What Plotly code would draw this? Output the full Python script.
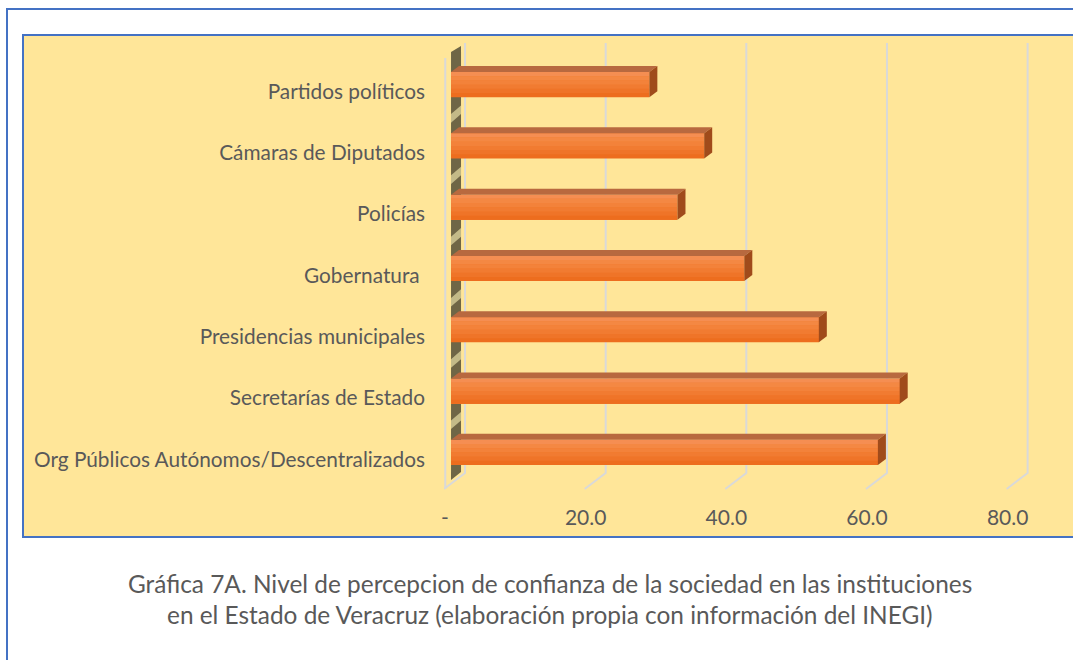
import plotly.graph_objects as go

# ---- data ----
categories = [
    "Org Públicos Autónomos/Descentralizados",
    "Secretarías de Estado",
    "Presidencias municipales",
    "Gobernatura ",
    "Policías",
    "Cámaras de Diputados",
    "Partidos políticos",
]
values = [60.7, 63.8, 52.3, 41.7, 32.2, 36.0, 28.2]
tick_vals = [0, 20, 40, 60, 80]
tick_text = ["-", "20.0", "40.0", "60.0", "80.0"]
caption_lines = [
    "Gráfica 7A. Nivel de percepcion de confianza de la sociedad en las instituciones",
    "en el Estado de Veracruz (elaboración propia con información del INEGI)",
]

# ---- layout geometry ----
W, H = 1073, 660
ML, MR, MT, MB = 444, 1, 54, 177
X_RANGE = [-1, 88.3]
Y_RANGE = [-0.5, len(categories) - 0.5]
pw = W - ML - MR
ph = H - MT - MB


def px_x(px):
    return (px - ML) / pw


def px_y(py):
    return (H - MB - py) / ph


ux = (X_RANGE[1] - X_RANGE[0]) / pw      # data units per pixel (x)
uy = (Y_RANGE[1] - Y_RANGE[0]) / ph      # data units per pixel (y)

TXT = "#595959"
FONT = "Lato"
BLUE = "#4472C4"
YELLOW = "#FFE699"
GRID = "#D9D9D9"

ypos = list(range(len(categories)))
half = 0.205

fig = go.Figure()
fig.add_trace(go.Bar(
    x=values, y=ypos, orientation="h", width=2 * half,
    marker=dict(color="#F07A2C", line=dict(width=0)),
    hoverinfo="skip",
))

shapes = []
# outer white panel with blue border
shapes.append(dict(type="rect", xref="paper", yref="paper",
                   x0=px_x(7), x1=px_x(1120), y0=px_y(9), y1=px_y(720),
                   line=dict(color=BLUE, width=2), fillcolor="white", layer="below"))
# inner yellow chart area
shapes.append(dict(type="rect", xref="paper", yref="paper",
                   x0=px_x(23), x1=px_x(1120), y0=px_y(35), y1=px_y(537),
                   line=dict(color=BLUE, width=2), fillcolor=YELLOW, layer="below"))
# 3D gridlines (back wall + floor slant)
for v in tick_vals:
    shapes.append(dict(type="path", xref="x", yref="paper",
                       path=f"M {v + 14 * ux},{px_y(43)} L {v + 14 * ux},{px_y(473)} L {v - 7 * ux},{px_y(489)}",
                       line=dict(color=GRID, width=2), layer="below"))
# front-left edge
shapes.append(dict(type="line", xref="paper", yref="paper",
                   x0=0.002, x1=0.002, y0=px_y(58), y1=px_y(489),
                   line=dict(color=GRID, width=2), layer="below"))
# left side wall
shapes.append(dict(type="path", xref="x", yref="paper",
                   path=f"M 0,{px_y(52)} L {10 * ux},{px_y(46)} L {10 * ux},{px_y(472)} L 0,{px_y(480)} Z",
                   fillcolor="#6f6646", line=dict(width=0), layer="below"))
for k in range(len(categories) - 1):
    # lighter diagonal streaks on the wall between bars
    yc = k + 0.5
    shapes.append(dict(type="path", xref="x", yref="y",
                       path=f"M 0,{yc - 0.12} L {10 * ux},{yc + 0.02} L {10 * ux},{yc + 0.16} L 0,{yc + 0.02} Z",
                       fillcolor="#d8cf98", line=dict(width=0), layer="below", opacity=0.8))

# pseudo-gradient on the front face of bars
bands = ["#F58E52", "#F48843", "#F3823A", "#F17B31", "#EF7428", "#ED6D1E"]
nb = len(bands)
for yi, v in zip(ypos, values):
    for b, col in enumerate(bands):
        y1 = yi + half - b * (2 * half / nb)
        y0 = y1 - 2 * half / nb
        shapes.append(dict(type="rect", xref="x", yref="y", x0=0, x1=v, y0=y0, y1=y1,
                           fillcolor=col, line=dict(width=0)))

# 3D faces of bars
dx = 8 * ux
dy = 6 * uy
for yi, v in zip(ypos, values):
    top = yi + half
    bot = yi - half
    shapes.append(dict(type="path", xref="x", yref="y",
                       path=f"M 0,{top} L {dx},{top + dy} L {v + dx},{top + dy} L {v},{top} Z",
                       fillcolor="#B8693F", line=dict(width=0)))
    shapes.append(dict(type="path", xref="x", yref="y",
                       path=f"M {v},{top} L {v + dx},{top + dy} L {v + dx},{bot + dy} L {v},{bot} Z",
                       fillcolor="#A04B1B", line=dict(width=0)))

annotations = []
for i, line in enumerate(caption_lines):
    annotations.append(dict(xref="paper", yref="paper", x=px_x(550), y=px_y(583 + 31 * i),
                            text=line, showarrow=False, xanchor="center", yanchor="middle",
                            font=dict(family=FONT, size=24.4, color=TXT)))

fig.update_layout(
    width=W, height=H,
    margin=dict(l=ML, r=MR, t=MT, b=MB),
    paper_bgcolor="white", plot_bgcolor="rgba(0,0,0,0)",
    showlegend=False, bargap=0,
    shapes=shapes, annotations=annotations,
    font=dict(family=FONT, size=21, color=TXT),
    xaxis=dict(range=X_RANGE, tickvals=tick_vals, ticktext=tick_text,
               showgrid=False, zeroline=False, showline=False, ticks="",
               ticklabelshift=-6, ticklabelstandoff=20,
               tickfont=dict(family=FONT, size=21, color=TXT)),
    yaxis=dict(range=Y_RANGE, tickvals=ypos, ticktext=categories,
               showgrid=False, zeroline=False, showline=False, ticks="",
               ticklabelstandoff=18, ticklabelshift=7,
               tickfont=dict(family=FONT, size=20.8, color=TXT)),
)

fig.write_html("out.html", config={"displayModeBar": False},
               post_script="document.body.style.margin='0';")
